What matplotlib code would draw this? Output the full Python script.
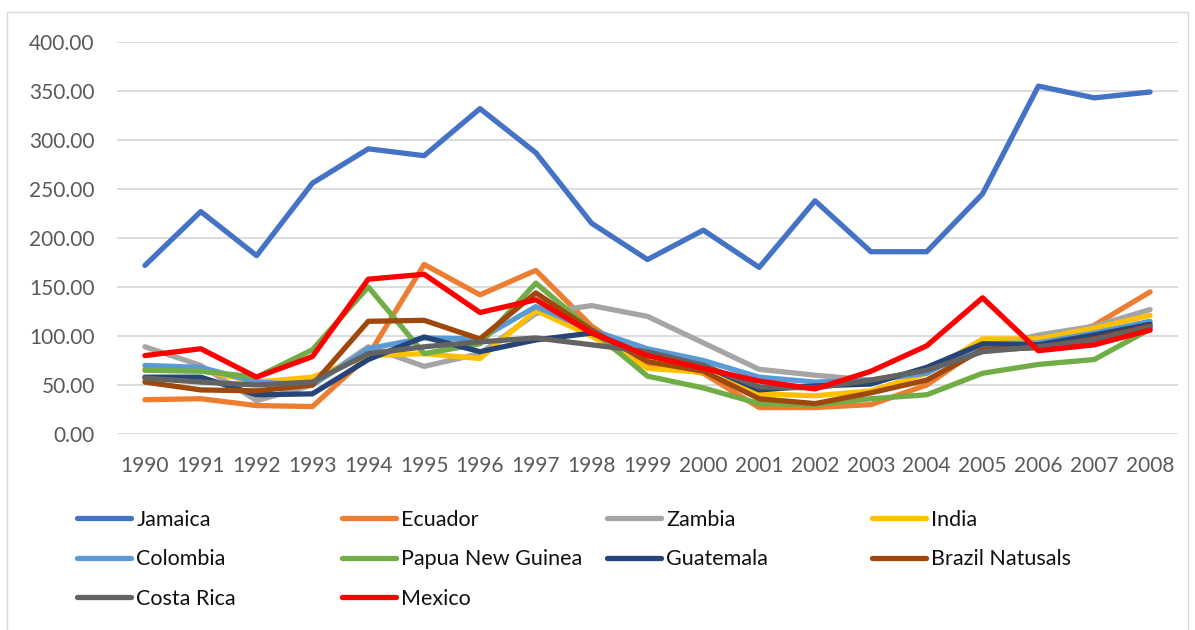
import matplotlib
matplotlib.use("Agg")
import matplotlib.pyplot as plt
from matplotlib.patches import Rectangle

plt.rcParams['font.family'] = ['Lato', 'DejaVu Sans']

years = list(range(1990, 2009))

jamaica = [172, 227, 182, 256, 291, 284, 332, 287, 215, 178, 208, 170, 238, 186, 186, 245, 355, 343, 349]
ecuador = [35, 36, 29, 28, 80, 173, 142, 167, 110, 72, 62, 27, 27, 30, 50, 89, 89, 111, 145]
zambia = [89, 70, 34, 50, 89, 69, 82, 123, 131, 120, 93, 66, 60, 55, 65, 88, 101, 110, 127]
india = [67, 65, 53, 58, 80, 82, 77, 126, 100, 67, 63, 41, 39, 44, 62, 97, 97, 108, 121]
colombia = [70, 68, 53, 50, 87, 98, 97, 130, 106, 87, 75, 58, 53, 55, 62, 92, 93, 103, 115]
papua = [65, 64, 58, 86, 150, 82, 92, 154, 106, 59, 47, 31, 30, 36, 40, 62, 71, 76, 107]
guatemala = [58, 58, 40, 41, 76, 99, 84, 96, 103, 80, 70, 45, 49, 51, 68, 92, 91, 101, 112]
brazil = [53, 45, 44, 50, 115, 116, 97, 144, 106, 74, 64, 36, 31, 42, 55, 86, 88, 97, 110]
costa_rica = [57, 53, 50, 53, 82, 89, 94, 98, 91, 84, 70, 48, 47, 55, 65, 84, 89, 96, 109]
mexico = [80, 87, 58, 79, 158, 163, 124, 137, 103, 80, 67, 54, 46, 64, 90, 139, 85, 91, 106]

names = ['Jamaica', 'Ecuador', 'Zambia', 'India', 'Colombia', 'Papua New Guinea',
         'Guatemala', 'Brazil Natusals', 'Costa Rica', 'Mexico']
series = [jamaica, ecuador, zambia, india, colombia, papua, guatemala, brazil, costa_rica, mexico]
colors = ['#4472C4', '#ED7D31', '#A5A5A5', '#FFC000', '#5B9BD5', '#70AD47',
          '#264478', '#9E480E', '#636363', '#FF0000']

fig = plt.figure(figsize=(11.95, 6.3), dpi=100)
ax = fig.add_axes([117 / 1195, 1 - 434 / 630, 1061 / 1195, 392 / 630])

lines = []
for name, vals, c in zip(names, series, colors):
    ln, = ax.plot(years, vals, color=c, lw=3.8, label=name,
                  solid_joinstyle='round', solid_capstyle='round')
    lines.append(ln)

ax.set_xlim(1989.5, 2008.5)
ax.set_ylim(0, 400)
ax.set_yticks(range(0, 401, 50))
ax.set_yticklabels(['%.2f' % v for v in range(0, 401, 50)])
ax.set_xticks(years)
ax.set_xticklabels([str(y) for y in years])
ax.grid(axis='y', color='#d9d9d9', lw=1.3)
ax.set_axisbelow(True)
for s in ax.spines.values():
    s.set_visible(False)
ax.tick_params(axis='both', length=0, labelsize=15, labelcolor='#595959')
ax.tick_params(axis='y', pad=16)
ax.tick_params(axis='x', pad=16)

# legend: 4 fixed-width columns like Excel
col_x = [77, 342, 607, 872]
for c in range(4):
    idx = list(range(c, len(names), 4))
    leg = fig.legend([lines[i] for i in idx], [names[i] for i in idx],
                     loc='upper left', bbox_to_anchor=(col_x[c] / 1195, 1 - 510 / 630),
                     frameon=False, fontsize=15.5, handlelength=2.5, handletextpad=0.25,
                     borderaxespad=0, borderpad=0, labelspacing=0.9)
    for t in leg.get_texts():
        t.set_color('#111111')

fig.patches.append(Rectangle((7 / 1195, -10 / 630), 1181 / 1195, 628 / 630,
                             transform=fig.transFigure, fill=False,
                             edgecolor='#d9d9d9', lw=1))

fig.savefig('out.png', dpi=100)
